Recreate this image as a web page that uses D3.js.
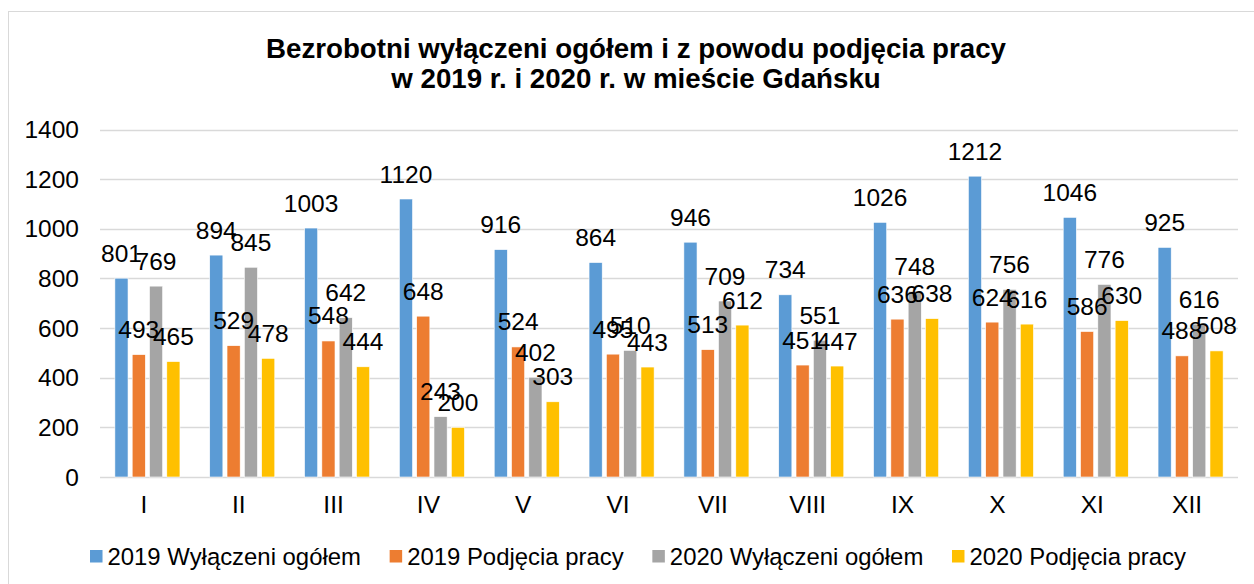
<!DOCTYPE html>
<html>
<head>
<meta charset="utf-8">
<script src="https://cdn.jsdelivr.net/npm/d3@7"></script>
<style>
  html, body { margin: 0; padding: 0; background: #fff; }
  svg { display: block; font-family: Arial, "Liberation Sans", sans-serif; }
</style>
</head>
<body>
<svg id="chart" width="1254" height="584"></svg>
<script>
const months = ["I","II","III","IV","V","VI","VII","VIII","IX","X","XI","XII"];
const seriesNames = ["2019 Wyłączeni ogółem","2019 Podjęcia pracy","2020 Wyłączeni ogółem","2020 Podjęcia pracy"];
const seriesColors = ["#5B9BD5","#ED7D31","#A5A5A5","#FFC000"];
const wylaczeni2019 = [801,894,1003,1120,916,864,946,734,1026,1212,1046,925];
const podjecia2019  = [493,529,548,648,524,495,513,451,636,624,586,488];
const wylaczeni2020 = [769,845,642,243,402,510,709,551,748,756,776,616];
const podjecia2020  = [465,478,444,200,303,443,612,447,638,616,630,508];
const yTicks = [0,200,400,600,800,1000,1200,1400];
const titleLines = ["Bezrobotni wyłączeni ogółem i z powodu podjęcia pracy","w 2019 r. i 2020 r. w mieście Gdańsku"];

const seriesValues = [wylaczeni2019, podjecia2019, wylaczeni2020, podjecia2020];

const svg = d3.select("#chart");

// outer border
svg.append("rect").attr("x",8.5).attr("y",11.5).attr("width",1300).attr("height",700)
  .attr("fill","none").attr("stroke","#d9d9d9").attr("stroke-width",1);

const plot = {left:100, right:1238, top:129.5, bottom:477};

const y = d3.scaleLinear().domain([0,1400]).range([plot.bottom, plot.top]);
const x0 = d3.scaleBand().domain(months).range([plot.left, plot.right]).padding(0);
const x1 = d3.scaleBand().domain(seriesNames).range([0, x0.bandwidth()]).paddingInner(0.24).paddingOuter(0.86);

// gridlines
svg.append("g").selectAll("line").data(yTicks).join("line")
  .attr("x1",plot.left).attr("x2",plot.right)
  .attr("y1",d=>Math.round(y(d))+0.5).attr("y2",d=>Math.round(y(d))+0.5)
  .attr("stroke","#d9d9d9").attr("stroke-width",1.5);

// y tick labels
svg.append("g").selectAll("text").data(yTicks).join("text")
  .attr("x",79).attr("y",d=>y(d)+8.7)
  .attr("text-anchor","end").attr("font-size","24.5px").attr("fill","#000")
  .text(d=>d);

// x labels
svg.append("g").selectAll("text").data(months).join("text")
  .attr("x",d=>x0(d)+x0.bandwidth()/2-3.5).attr("y",512.5)
  .attr("text-anchor","middle").attr("font-size","24.5px").attr("fill","#000")
  .text(d=>d);

// bars
const flat = [];
months.forEach((m,i)=>{
  seriesNames.forEach((s,j)=>{
    flat.push({month:m, series:s, value:seriesValues[j][i], color:seriesColors[j]});
  });
});

svg.append("g").selectAll("rect").data(flat).join("rect")
  .attr("x",d=>x0(d.month)+x1(d.series))
  .attr("y",d=>y(d.value))
  .attr("width",x1.bandwidth())
  .attr("height",d=>y(0)-y(d.value))
  .attr("fill",d=>d.color)
  .attr("stroke","#fff").attr("stroke-width",0.6);

// data labels
svg.append("g").selectAll("text").data(flat).join("text")
  .attr("x",d=>x0(d.month)+x1(d.series)+x1.bandwidth()/2)
  .attr("y",d=>y(d.value)-16.5)
  .attr("text-anchor","middle").attr("font-size","24.5px").attr("fill","#000")
  .text(d=>d.value);

// title
const title = svg.append("text").attr("text-anchor","middle")
  .attr("font-size","27.7px").attr("font-weight","bold").attr("fill","#000");
titleLines.forEach((t,i)=>{
  title.append("tspan").attr("x",636).attr("y",58+i*30).text(t);
});

// legend
const legend = svg.append("g");
const items = legend.selectAll("g").data(seriesNames).join("g");
items.append("rect").attr("width",12.5).attr("height",12.5).attr("y",550)
  .attr("fill",(d,i)=>seriesColors[i]);
items.append("text").attr("x",17.5).attr("y",564.5).attr("font-size","23.9px").attr("fill","#000").text(d=>d);
const widths = [];
items.each(function(d){
  const w = d3.select(this).select("text").node().getComputedTextLength();
  widths.push(17.5 + w);
});
const gap = 28.7;
const total = d3.sum(widths) + gap*(widths.length-1);
let start = 638 - total/2;
items.attr("transform",(d,i)=>{
  const t = `translate(${start},0)`;
  start += widths[i] + gap;
  return t;
});
</script>
</body>
</html>
